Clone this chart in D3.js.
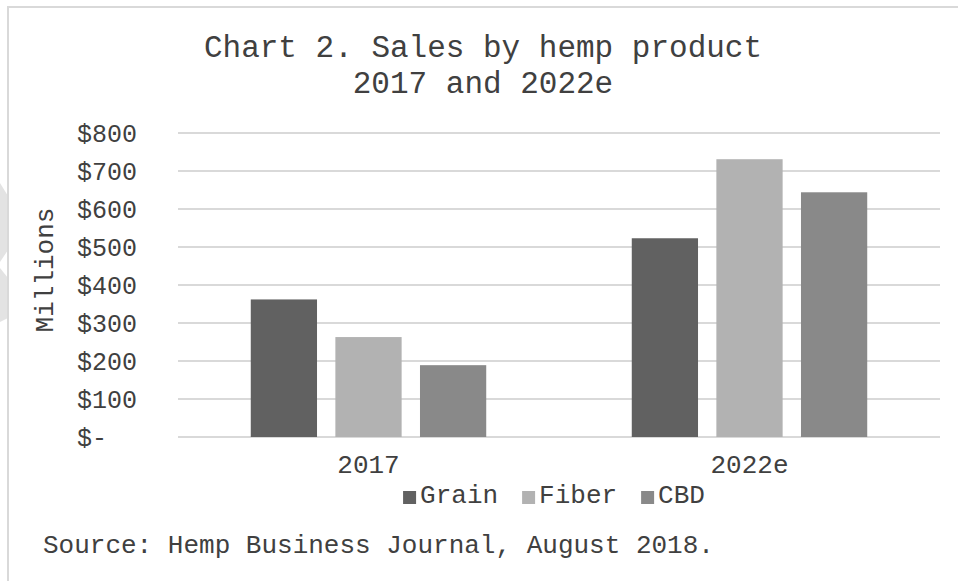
<!DOCTYPE html>
<html>
<head>
<meta charset="utf-8">
<script src="https://cdn.jsdelivr.net/npm/d3@7"></script>
<style>
  body { margin: 0; background: #fff; }
  text { font-family: "Liberation Mono", "Courier New", monospace; fill: #404040; }
</style>
</head>
<body>
<script>
// data (millions of dollars)
var years = ["2017", "2022e"];
var products = ["Grain", "Fiber", "CBD"];
var grain = [362, 523];
var fiber = [263, 731];
var cbd = [189, 644];
var yTicks = [0, 100, 200, 300, 400, 500, 600, 700, 800];

var colors = {Grain: "#616161", Fiber: "#b2b2b2", CBD: "#898989"};

var W = 958, H = 581;
var plot = {left: 178, right: 940, top: 133, bottom: 437};

var svg = d3.select("body").append("svg")
    .attr("width", W)
    .attr("height", H);

// faint watermark bits at the left edge
svg.append("path")
    .attr("d", "M0,183 L8,196 L8,250 L0,262 Z M0,268 L8,278 L8,318 L0,322 Z")
    .attr("fill", "#e3e3e3");

// chart frame (runs off the right and bottom)
svg.append("rect")
    .attr("x", 8).attr("y", 7)
    .attr("width", W + 20).attr("height", H + 20)
    .attr("fill", "none")
    .attr("stroke", "#d9d9d9")
    .attr("stroke-width", 2);

// scales
var x0 = d3.scaleBand()
    .domain(years)
    .range([plot.left, plot.right]);
var x1 = d3.scaleBand()
    .domain(products)
    .range([x0.bandwidth() * 0.191, x0.bandwidth() * 0.809])
    .paddingInner(0.217);
var y = d3.scaleLinear()
    .domain([0, 800])
    .range([plot.bottom, plot.top]);

// gridlines
svg.append("g")
  .selectAll("line")
    .data(yTicks)
  .enter().append("line")
    .attr("x1", plot.left)
    .attr("x2", plot.right)
    .attr("y1", function(d) { return y(d); })
    .attr("y2", function(d) { return y(d); })
    .attr("stroke", "#d9d9d9")
    .attr("stroke-width", 2);

// y axis labels, accounting style
var yAxis = svg.append("g")
    .attr("transform", "translate(" + plot.left + ",0)")
    .call(d3.axisLeft(y)
      .tickValues(yTicks)
      .tickSize(0)
      .tickFormat(function(d) { return d === 0 ? "$-" : "$" + d; }));
yAxis.select(".domain").remove();
yAxis.selectAll("text")
    .attr("x", 77 - plot.left)
    .attr("text-anchor", "start")
    .attr("fill", "#404040")
    .style("font-family", "'Liberation Mono', monospace")
    .style("font-size", "25px");

// bars
var rows = years.map(function(yr, i) {
  return {year: yr, values: [
    {key: "Grain", v: grain[i]},
    {key: "Fiber", v: fiber[i]},
    {key: "CBD", v: cbd[i]}
  ]};
});

svg.append("g")
  .selectAll("g")
    .data(rows)
  .enter().append("g")
    .attr("transform", function(d) { return "translate(" + x0(d.year) + ",0)"; })
  .selectAll("rect")
    .data(function(d) { return d.values; })
  .enter().append("rect")
    .attr("x", function(d) { return x1(d.key); })
    .attr("width", x1.bandwidth())
    .attr("y", function(d) { return y(d.v); })
    .attr("height", function(d) { return y(0) - y(d.v); })
    .attr("fill", function(d) { return colors[d.key]; });

// x axis labels
var xAxis = svg.append("g")
    .attr("transform", "translate(0," + plot.bottom + ")")
    .call(d3.axisBottom(x0).tickSize(0));
xAxis.select(".domain").remove();
xAxis.selectAll("text")
    .attr("y", 0)
    .attr("dy", 36)
    .attr("fill", "#404040")
    .style("font-family", "'Liberation Mono', monospace")
    .style("font-size", "26px");

// y title
svg.append("text")
    .attr("transform", "translate(53,270) rotate(-90)")
    .attr("text-anchor", "middle")
    .style("font-size", "26px")
    .text("Millions");

// title
var title = svg.append("text")
    .attr("text-anchor", "middle")
    .style("font-size", "31px");
title.append("tspan").attr("x", 483).attr("y", 57).text("Chart 2. Sales by hemp product");
title.append("tspan").attr("x", 483).attr("y", 93).text("2017 and 2022e");

// legend
var legend = svg.append("g");
var lx = 0;
products.forEach(function(p, i) {
  legend.append("rect")
      .attr("x", lx).attr("y", 491)
      .attr("width", 13).attr("height", 13)
      .attr("fill", colors[p]);
  var t = legend.append("text")
      .attr("x", lx + 17).attr("y", 503)
      .style("font-size", "26px")
      .text(p);
  lx += 17 + t.node().getComputedTextLength() + 24;
});
var legendW = lx - 24;
legend.attr("transform", "translate(" + (554 - legendW / 2) + ",0)");

// source note
svg.append("text")
    .attr("x", 43).attr("y", 553)
    .style("font-size", "26px")
    .text("Source: Hemp Business Journal, August 2018.");
</script>
</body>
</html>
